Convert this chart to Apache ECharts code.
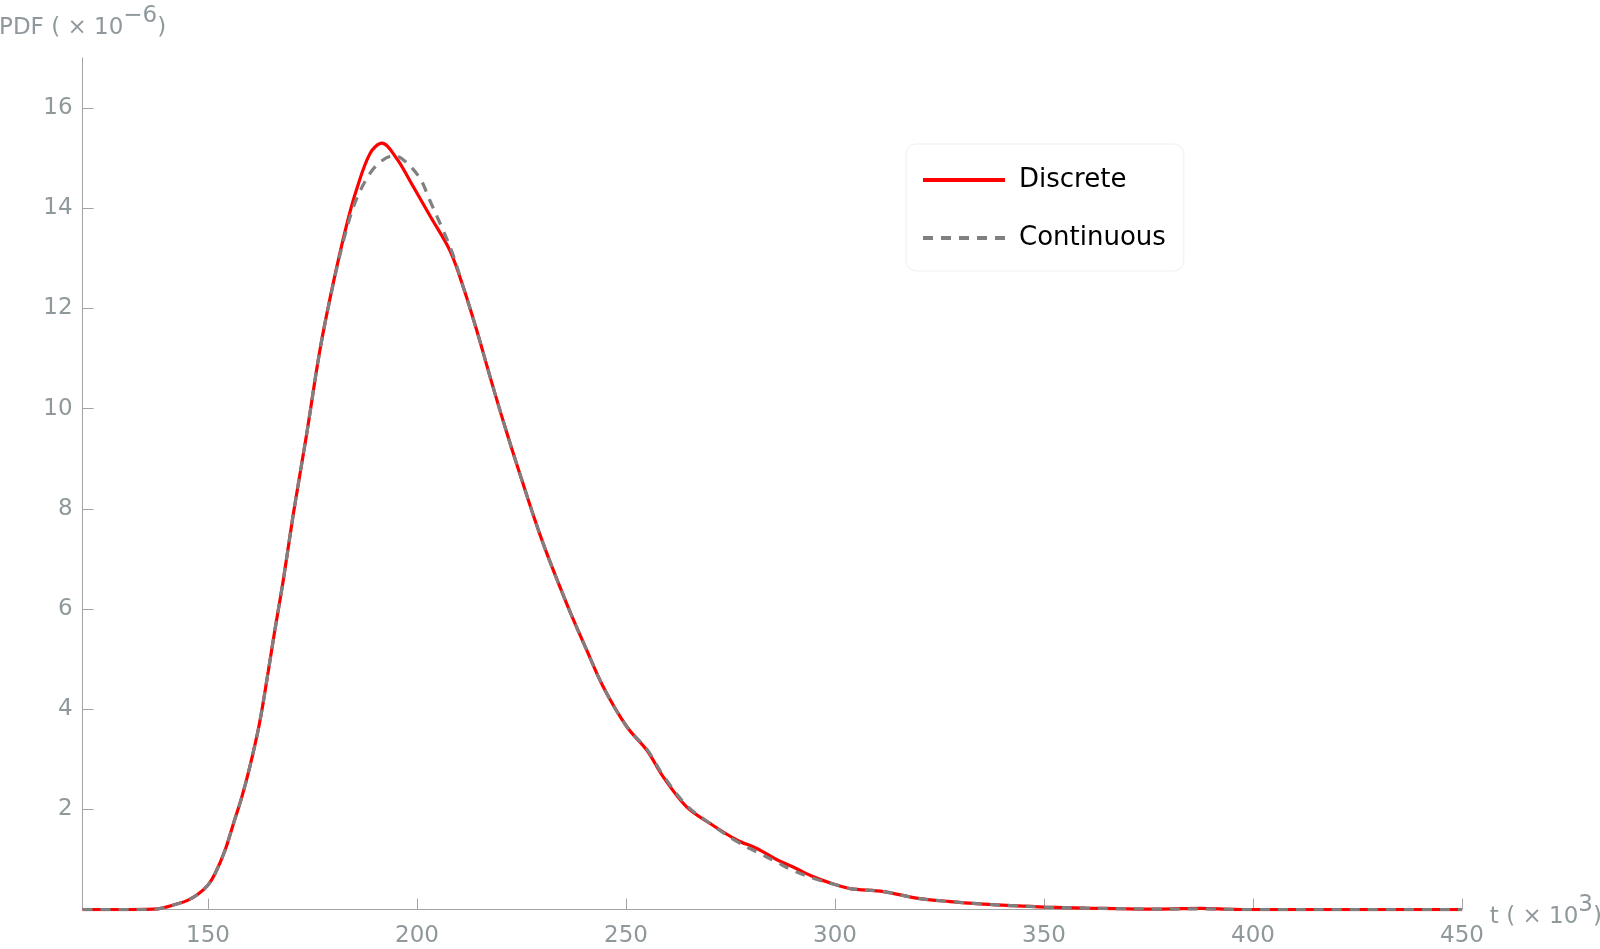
<!DOCTYPE html>
<html>
<head>
<meta charset="utf-8">
<title>PDF</title>
<script src="https://cdn.jsdelivr.net/npm/echarts@6/dist/echarts.min.js"></script>
<style>
  html, body { margin: 0; padding: 0; background: #fff; }
  #main { width: 1600px; height: 949px; }
</style>
</head>
<body>
<div id="main"></div>
<script>
// t in units of 10^3, pdf in units of 10^-6
var tDiscrete = [120, 130, 135, 138, 140, 142.5, 145, 147.5, 150, 151.7, 154.1, 156.1, 158.1, 160,
  162.3, 164.4, 166, 168, 170.4, 173.6, 176.8, 180, 183.2, 185.6, 188.8, 191.6, 195.1, 198.3, 203.1, 207.9,
  211.1, 214.3, 217.5, 220.6, 224.6, 230, 235.8, 240.6, 244.6, 250.2, 255, 258.9, 264.5, 270.1,
  276.5, 281.3, 286, 290, 295, 300, 303.6, 311.6, 319.5, 327.5, 335.5, 342, 350.2, 360, 367.4,
  378, 387.3, 395, 400, 420, 450];
var pdfDiscrete = [0, 0, 0.003, 0.015, 0.05, 0.11, 0.18, 0.3, 0.49, 0.72, 1.19, 1.72, 2.25, 2.85,
  3.71, 4.75, 5.58, 6.57, 7.89, 9.49, 11.18, 12.52, 13.68, 14.39, 15.1, 15.3, 15.0, 14.55, 13.85, 13.15,
  12.42, 11.56, 10.63, 9.76, 8.7, 7.35, 6.11, 5.18, 4.44, 3.65, 3.18, 2.65, 2.05, 1.72,
  1.39, 1.22, 1.0, 0.85, 0.65, 0.5, 0.42, 0.36, 0.23, 0.16, 0.11, 0.08, 0.05, 0.03, 0.02,
  0.01, 0.025, 0.005, 0, 0, 0];

var tContinuous = [120, 130, 135, 138, 140, 142.5, 145, 147.5, 150, 151.7, 154.1, 156.1, 158.1, 160,
  162.3, 164.4, 166, 168, 170.4, 173.6, 176.8, 180, 183.2, 185.6, 188.8, 191.6, 194.5, 197, 200.7, 203.1,
  206.3, 208.5, 211.1, 214.3, 217.5, 220.6, 224.6, 230, 235.8, 240.6, 244.6, 250.2, 255, 258.9,
  264.5, 270.1, 276.5, 281.3, 286, 290, 295, 300, 303.6, 311.6, 319.5, 327.5, 335.5, 342, 350.2,
  360, 367.4, 378, 387.3, 395, 400, 420, 450];
var pdfContinuous = [0, 0, 0.003, 0.015, 0.05, 0.11, 0.18, 0.3, 0.49, 0.72, 1.19, 1.72, 2.25, 2.85,
  3.71, 4.75, 5.58, 6.57, 7.89, 9.49, 11.18, 12.5, 13.6, 14.2, 14.7, 14.95, 15.05, 14.95, 14.6, 14.15,
  13.55, 13.1, 12.42, 11.56, 10.63, 9.76, 8.7, 7.35, 6.11, 5.18, 4.44, 3.65, 3.2, 2.68,
  2.08, 1.72, 1.36, 1.15, 0.95, 0.78, 0.62, 0.5, 0.42, 0.36, 0.23, 0.16, 0.11, 0.08, 0.05,
  0.03, 0.02, 0.01, 0.015, 0.005, 0, 0, 0];

var xTicks = [150, 200, 250, 300, 350, 400, 450];
var yTicks = [2, 4, 6, 8, 10, 12, 14, 16];

function zip(xs, ys) {
  return xs.map(function (x, i) { return [x, ys[i]]; });
}

var axisColor = "#a3a3a3";
var labelColor = "#8f999c";
var font = "DejaVu Sans";

var chart = echarts.init(document.getElementById("main"));
var option = {
  animation: false,
  backgroundColor: "#fff",
  grid: {
    left: 82.6,
    right: 138,
    top: 58,
    bottom: 39.4,
    outerBoundsMode: "none"
  },
  legend: {
    left: 906,
    top: 144,
    orient: "vertical",
    padding: [23, 18, 20, 15],
    itemWidth: 82,
    itemHeight: 26,
    itemGap: 32,
    borderColor: "#efefef",
    borderWidth: 1,
    borderRadius: 10,
    itemStyle: { opacity: 0 },
    lineStyle: { width: 4 },
    textStyle: { fontFamily: font, fontSize: 26, color: "#000", padding: [0, 0, 0, 9] },
    data: ["Discrete", "Continuous"]
  },
  xAxis: {
    type: "value",
    min: 120,
    max: 450,
    name: "{m|t ( × 10}{s|3}{m|)}",
    nameLocation: "end",
    nameGap: 21,
    nameTextStyle: {
      rich: {
        m: { fontFamily: font, fontSize: 23, color: labelColor, verticalAlign: "bottom", padding: [14, 0, 0, 0] },
        s: { fontFamily: font, fontSize: 23, color: labelColor, verticalAlign: "bottom", padding: [0, 0, 12, 0] }
      }
    },
    splitLine: { show: false },
    axisLine: { lineStyle: { color: axisColor, width: 1 } },
    axisTick: { inside: true, length: 11, customValues: xTicks, lineStyle: { color: axisColor } },
    axisLabel: { customValues: xTicks, margin: 15, fontFamily: font, fontSize: 23, color: labelColor }
  },
  yAxis: {
    type: "value",
    min: 0,
    max: 17,
    name: "{m|PDF ( × 10}{s|−6}{m|)}",
    nameLocation: "end",
    nameGap: 18,
    nameTextStyle: {
      align: "center",
      rich: {
        m: { fontFamily: font, fontSize: 23, color: labelColor, verticalAlign: "bottom" },
        s: { fontFamily: font, fontSize: 23, color: labelColor, verticalAlign: "bottom", padding: [0, 0, 12, 0] }
      }
    },
    splitLine: { show: false },
    axisLine: { show: true, lineStyle: { color: axisColor, width: 1 } },
    axisTick: { show: true, inside: true, length: 11, customValues: yTicks, lineStyle: { color: axisColor } },
    axisLabel: { customValues: yTicks, margin: 10, fontFamily: font, fontSize: 23, color: labelColor }
  },
  series: [
    {
      name: "Discrete",
      type: "line",
      data: zip(tDiscrete, pdfDiscrete),
      symbol: "none",
      smooth: 0.35,
      lineStyle: { color: "#ff0000", width: 3.2 },
      itemStyle: { color: "#ff0000" }
    },
    {
      name: "Continuous",
      type: "line",
      data: zip(tContinuous, pdfContinuous),
      symbol: "none",
      smooth: 0.35,
      lineStyle: { color: "#808080", width: 3.2, type: [10, 8] },
      itemStyle: { color: "#808080" }
    }
  ]
};
chart.setOption(option);
</script>
</body>
</html>
